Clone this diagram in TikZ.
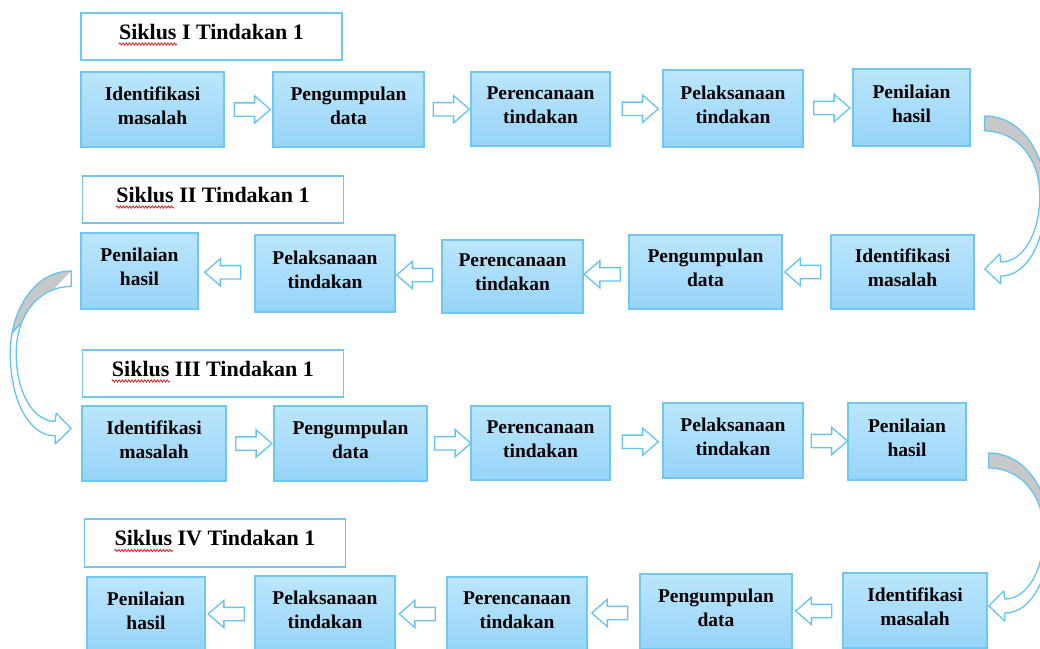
\documentclass[tikz,border=0pt]{standalone}
\usepackage{fontspec}
\setmainfont{Liberation Serif}
\usetikzlibrary{shapes.arrows,calc,decorations.pathmorphing}
\definecolor{boxblue}{RGB}{112,200,242}
\definecolor{filltop}{RGB}{188,230,252}
\definecolor{fillbot}{RGB}{150,212,248}
\definecolor{arrowblue}{RGB}{100,196,240}
\definecolor{backgray}{RGB}{200,200,200}
\definecolor{spellred}{RGB}{230,30,30}

\newcommand\curvedarrow[3]{%
\begin{scope}[shift={#1},#2]
 \fill[white] (0,0) .. controls (38,0) and (61,40) .. (61,80) .. controls (61,122) and (44,160) .. (16,160) -- (16,168) -- (0,153) -- (15,138) -- (16,146) .. controls (38,146) and (55,118) .. (55,80) .. controls (55,42) and (32,15) .. (0,15) -- cycle;
 \begin{scope}
  \clip (0,0) .. controls (38,0) and (61,40) .. (61,80) .. controls (61,122) and (44,160) .. (16,160) -- (16,168) -- (0,153) -- (15,138) -- (16,146) .. controls (38,146) and (55,118) .. (55,80) .. controls (55,42) and (32,15) .. (0,15) -- cycle;
  #3
 \end{scope}
 \draw[arrowblue,line width=1.3pt,line join=round] (0,0) .. controls (38,0) and (61,40) .. (61,80) .. controls (61,122) and (44,160) .. (16,160) -- (16,168) -- (0,153) -- (15,138) -- (16,146) .. controls (38,146) and (55,118) .. (55,80) .. controls (55,42) and (32,15) .. (0,15) -- cycle;
\end{scope}}

\begin{document}
\begin{tikzpicture}[x=1pt,y=-1pt,
  stage/.style={draw=boxblue, line width=1.6pt, top color=filltop, bottom color=fillbot,
    font=\fontsize{19.5}{24}\selectfont\bfseries, align=center, inner sep=0pt,
    execute at end node={\rule[-8pt]{0pt}{8pt}}},
  titlebox/.style={draw=boxblue, line width=1.6pt, fill=white, minimum width=261pt, minimum height=47pt,
    font=\fontsize{22}{26}\selectfont\bfseries, inner sep=0pt,
    execute at end node={\rule[-9.5pt]{0pt}{9.5pt}}},
  barrow/.style={single arrow, draw=arrowblue, fill=white, line width=1.3pt,
    minimum height=36pt, minimum width=26pt, single arrow head extend=7pt,
    single arrow tip angle=82, inner xsep=0pt, inner ysep=6pt},
  barrowl/.style={barrow, shape border rotate=180},
  spell/.style={spellred, line width=0.8pt, decorate, decoration={snake, amplitude=1.1pt, segment length=3.2pt}}
]
\useasboundingbox (0,0) rectangle (1040,648);
\fill[white] (0,0) rectangle (1040,648);
\clip (0,0) rectangle (1040,648);

% titles
\node[titlebox] (t1) at (211.5,36.5) {Siklus I Tindakan 1};
\node[titlebox] (t2) at (213,199.5) {Siklus II Tindakan 1};
\node[titlebox] (t3) at (213,373.5) {Siklus III Tindakan 1};
\node[titlebox, minimum height=48pt] (t4) at (215,543) {Siklus IV Tindakan 1};
\draw[spell] ($(t1.center)+(-92.7,7.5)$) -- ($(t1.center)+(-34.7,7.5)$);
\draw[spell] ($(t2.center)+(-96.9,7.5)$) -- ($(t2.center)+(-38.9,7.5)$);
\draw[spell] ($(t3.center)+(-101.2,7.5)$) -- ($(t3.center)+(-43.2,7.5)$);
\draw[spell] ($(t4.center)+(-100.5,7.5)$) -- ($(t4.center)+(-42.5,7.5)$);

% row 1
\node[stage, minimum width=143pt, minimum height=75pt] (r1a) at (152.5,109.5) {Identifikasi\\masalah};
\node[stage, minimum width=151pt, minimum height=75pt] (r1b) at (348.5,109.5) {Pengumpulan\\data};
\node[stage, minimum width=139pt, minimum height=74pt] (r1c) at (540.5,109) {Perencanaan\\tindakan};
\node[stage, minimum width=140pt, minimum height=77pt] (r1d) at (733,108.5) {Pelaksanaan\\tindakan};
\node[stage, minimum width=117pt, minimum height=77pt] (r1e) at (911.5,107.5) {Penilaian\\hasil};

% row 2
\node[stage, minimum width=117pt, minimum height=76pt] (r2a) at (139.5,271) {Penilaian\\hasil};
\node[stage, minimum width=140pt, minimum height=77pt] (r2b) at (325,273.5) {Pelaksanaan\\tindakan};
\node[stage, minimum width=141pt, minimum height=73pt] (r2c) at (512.5,276.5) {Perencanaan\\tindakan};
\node[stage, minimum width=153pt, minimum height=74pt] (r2d) at (705.5,272) {Pengumpulan\\data};
\node[stage, minimum width=143pt, minimum height=74pt] (r2e) at (902.5,272) {Identifikasi\\masalah};

% row 3
\node[stage, minimum width=144pt, minimum height=75pt] (r3a) at (154,443.5) {Identifikasi\\masalah};
\node[stage, minimum width=153pt, minimum height=75pt] (r3b) at (350.5,443.5) {Pengumpulan\\data};
\node[stage, minimum width=139pt, minimum height=74pt] (r3c) at (540.5,443) {Perencanaan\\tindakan};
\node[stage, minimum width=140pt, minimum height=75pt] (r3d) at (733,440.5) {Pelaksanaan\\tindakan};
\node[stage, minimum width=118pt, minimum height=77pt] (r3e) at (907,441.5) {Penilaian\\hasil};

% row 4
\node[stage, minimum width=118pt, minimum height=75pt] (r4a) at (146,614.5) {Penilaian\\hasil};
\node[stage, minimum width=140pt, minimum height=75pt] (r4b) at (325,613.5) {Pelaksanaan\\tindakan};
\node[stage, minimum width=140pt, minimum height=75pt] (r4c) at (517,614.5) {Perencanaan\\tindakan};
\node[stage, minimum width=152pt, minimum height=75pt] (r4d) at (716,611.5) {Pengumpulan\\data};
\node[stage, minimum width=144pt, minimum height=75pt] (r4e) at (915,610.5) {Identifikasi\\masalah};

% block arrows
\node[barrow] (a11) at ($(r1a.east)!0.5!(r1b.west)$) {};
\node[barrow] (a12) at ($(r1b.east)!0.5!(r1c.west)$) {};
\node[barrow] (a13) at ($(r1c.east)!0.5!(r1d.west)$) {};
\node[barrow] (a14) at ($(r1d.east)!0.5!(r1e.west)$) {};
\node[barrowl] (a21) at ($(r2e.west)!0.5!(r2d.east)$) {};
\node[barrowl] (a22) at ($(r2d.west)!0.5!(r2c.east)$) {};
\node[barrowl] (a23) at ($(r2c.west)!0.5!(r2b.east)$) {};
\node[barrowl] (a24) at ($(r2b.west)!0.5!(r2a.east)$) {};
\node[barrow] (a31) at ($(r3a.east)!0.5!(r3b.west)$) {};
\node[barrow] (a32) at ($(r3b.east)!0.5!(r3c.west)$) {};
\node[barrow] (a33) at ($(r3c.east)!0.5!(r3d.west)$) {};
\node[barrow] (a34) at ($(r3d.east)!0.5!(r3e.west)$) {};
\node[barrowl] (a41) at ($(r4e.west)!0.5!(r4d.east)$) {};
\node[barrowl] (a42) at ($(r4d.west)!0.5!(r4c.east)$) {};
\node[barrowl] (a43) at ($(r4c.west)!0.5!(r4b.east)$) {};
\node[barrowl] (a44) at ($(r4b.west)!0.5!(r4a.east)$) {};

% curved arrows between cycles
\curvedarrow{($(r1e.east)+(14,8.5)$)}{xscale=1}{\fill[backgray] (-5,-5) rectangle (90,82);}
\curvedarrow{($(r2a.west)+(-9,0)$)}{xscale=-1,yscale=1.03}{\fill[backgray] (-5,-5) -- (90,-5) -- (90,92) -- (30,30) -- cycle; \draw[arrowblue,line width=1.3pt] (30,30) -- (90,92);}
\curvedarrow{($(r3e.east)+(22,11.5)$)}{xscale=1}{\fill[backgray] (-5,-5) rectangle (90,82);}
\end{tikzpicture}
\end{document}
